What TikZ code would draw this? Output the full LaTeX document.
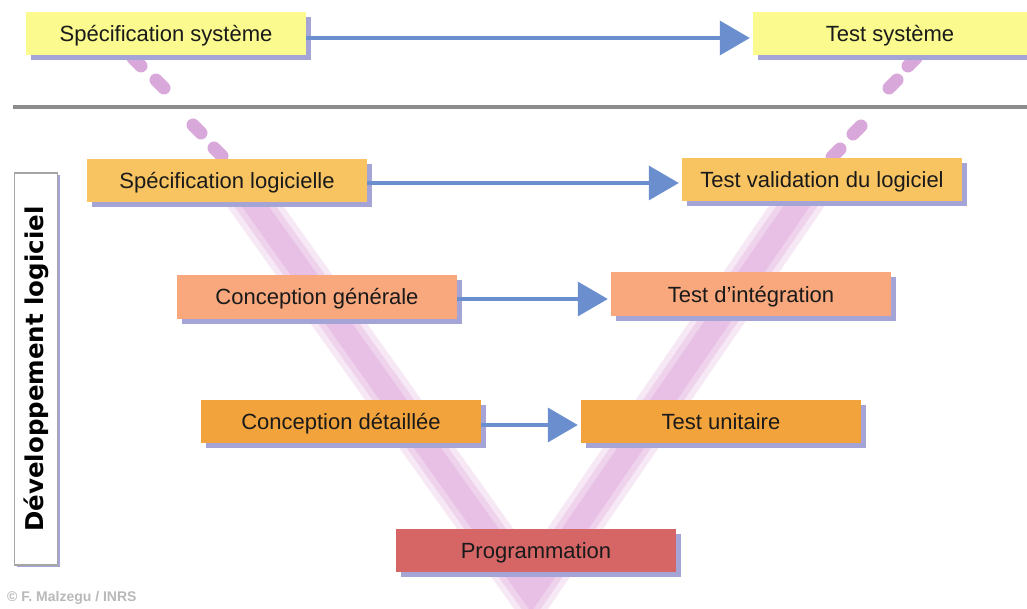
\documentclass[tikz,border=0pt]{standalone}
\usepackage{graphicx}
\usepackage{fontspec}
\setmainfont{Liberation Sans}
\newfontfamily\vfont{DejaVu Sans}
\usetikzlibrary{arrows.meta,shadows}
\definecolor{yellowbox}{HTML}{FAFA8E}
\definecolor{lightorange}{HTML}{F8C462}
\definecolor{salmon}{HTML}{F9A77C}
\definecolor{orangebox}{HTML}{F2A33C}
\definecolor{progred}{HTML}{D66666}
\definecolor{shadowc}{HTML}{A4A4D6}
\definecolor{arrowc}{HTML}{6A8ECE}
\definecolor{sepc}{HTML}{8C8C8C}
\definecolor{vbandA}{HTML}{F7E8F5}
\definecolor{vbandB}{HTML}{EFD2EC}
\definecolor{vbandC}{HTML}{E8C0E5}
\definecolor{vdashc}{HTML}{D9A8DB}
\definecolor{txt}{HTML}{1A1A1A}
\tikzset{
  phase/.style={rectangle, minimum width=280pt, minimum height=43pt, inner sep=0pt,
    text height=20pt, text depth=4pt,
    text=txt, font=\fontsize{22}{26}\selectfont,
    drop shadow={shadow xshift=5pt, shadow yshift=-5pt, fill=shadowc, opacity=1}},
  flow/.style={draw=arrowc, line width=3.5pt, shorten >=3pt,
    -{Triangle[length=30pt,width=34pt]}},
  vband/.style={line join=miter},
  vdash/.style={draw=vdashc, line width=13pt, line cap=round},
}
\begin{document}
\begin{tikzpicture}[x=1pt,y=-1pt]
\useasboundingbox (0,0) rectangle (1027,609);
\fill[white] (0,0) rectangle (1027,609);
% the V band
\begin{scope}
  \clip (0,0) rectangle (1027,609);
  \draw[vband, draw=vbandA, line width=46pt] (235,178) -- (531,593) -- (816,178);
  \draw[vband, draw=vbandB, line width=34pt] (235,178) -- (531,593) -- (816,178);
  \draw[vband, draw=vbandC, line width=22pt] (235,178) -- (531,593) -- (816,178);
\end{scope}
% dashed upper part of the V
\foreach \px/\py in {137/62,160/84,197/129,218/152}
  \draw[vdash] ({\px-4},{\py-4}) -- ({\px+4},{\py+4});
\foreach \px/\py in {912/62,893/84,857/130,836/153}
  \draw[vdash] ({\px+4},{\py-4}) -- ({\px-4},{\py+4});
% separator
\draw[draw=sepc, line width=4pt] (13,107) -- (1027,107);
% boxes
\node[phase, fill=yellowbox] (specsys) at (166,34) {Spécification système};
\node[phase, fill=yellowbox, minimum width=274pt] (testsys) at (890,34) {Test système};
\node[phase, fill=lightorange] (speclog) at (227,181) {Spécification logicielle};
\node[phase, fill=lightorange] (testval) at (822,180) {Test validation du logiciel};
\node[phase, fill=salmon] (concgen) at (317,297) {Conception générale};
\node[phase, fill=salmon] (testint) at (751,294) {Test d'intégration};
\node[phase, fill=orangebox] (concdet) at (341,421) {Conception détaillée};
\node[phase, fill=orangebox] (testunit) at (721,421) {Test unitaire};
\node[phase, fill=progred] (prog) at (536,550) {Programmation};
% arrows
\draw[flow] ([yshift=-4pt]specsys.east) -- ([yshift=-4pt]testsys.west);
\draw[flow] ([yshift=-2pt]speclog.east) -- ([yshift=-2pt]speclog.east -| testval.west);
\draw[flow] ([yshift=-2pt]concgen.east) -- ([yshift=-2pt]concgen.east -| testint.west);
\draw[flow] ([yshift=-4pt]concdet.east) -- ([yshift=-4pt]testunit.west);
% vertical label
\node[rectangle, draw=gray!70, line width=1.2pt, fill=white, minimum width=43pt, minimum height=392pt,
  inner sep=0pt, drop shadow={shadow xshift=2pt, shadow yshift=-2pt, fill=shadowc, opacity=1}]
  (dev) at (36,369) {\rotatebox{90}{\vfont\bfseries\fontsize{24.5}{28}\selectfont Développement logiciel}};
% credit
\node[anchor=west, inner sep=0pt, text=gray!55, font=\bfseries\fontsize{14}{16}\selectfont] (credit) at (7,598) {© F. Malzegu / INRS};
\end{tikzpicture}
\end{document}
